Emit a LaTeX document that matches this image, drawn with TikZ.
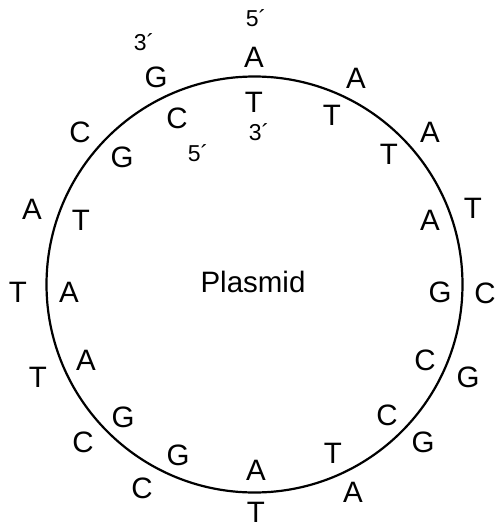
\documentclass[tikz,border=0pt]{standalone}
\usepackage{fontspec}
\setmainfont{Liberation Sans}
\tikzset{
  base/.style={font=\fontsize{29.5}{29.5}\selectfont, inner sep=0pt},
  prime/.style={font=\fontsize{23}{23}\selectfont, inner sep=0pt}
}
\begin{document}
\begin{tikzpicture}[x=1pt, y=-1pt]
\useasboundingbox (0,0) rectangle (495,527);
%plasmid ring
\node[draw, circle, line width=2.2pt, minimum size=416pt, inner sep=0pt] (ring) at (254.5,284.5) {};
\node[base] (label) at (253,282) {Plasmid};
%outer strand
\foreach \x/\y/\b [count=\i] in {254/57/A, 356/78/A, 430/132/A, 473/208/T,
	485/293/C, 468/377/G, 423/442/G, 353/492/A, 256/512/T, 142/488/C,
	83/442/C, 38/377/T, 18/292/T, 32/209/A, 80/132/C, 156/77/G}
\node[base] (outer\i) at (\x,\y) {\b};
%inner strand
\foreach \x/\y/\b [count=\i] in {254/102/T, 332/115/T, 389/154/T, 430/220/A,
	440/292/G, 425/360/C, 387/415/C, 333/453/T, 256/470/A, 178/455/G,
	123/417/G, 86/360/A, 69/292/A, 81/220/T, 122/157/G, 177/118/C}
\node[base] (inner\i) at (\x,\y) {\b};
%ends
\node[prime] (outer5) at (256,18) {5´};
\node[prime] (outer3) at (144,42) {3´};
\node[prime] (inner3) at (259,132) {3´};
\node[prime] (inner5) at (198,153) {5´};
\end{tikzpicture}
\end{document}
